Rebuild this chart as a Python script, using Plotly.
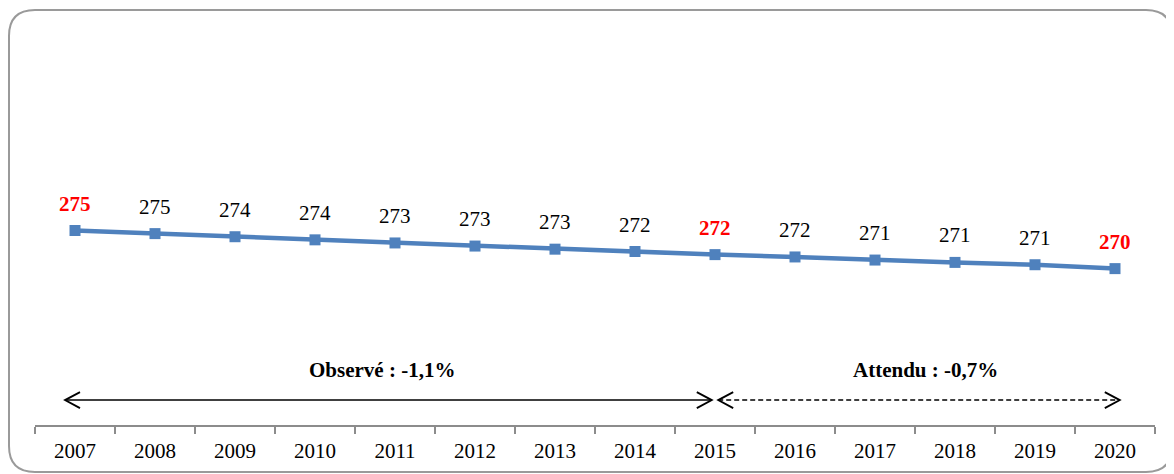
import plotly.graph_objects as go

years = ["2007", "2008", "2009", "2010", "2011", "2012", "2013",
         "2014", "2015", "2016", "2017", "2018", "2019", "2020"]
values = [275.0, 274.6, 274.2, 273.8, 273.4, 273.0, 272.6,
          272.3, 271.9, 271.6, 271.2, 270.9, 270.6, 270.1]
highlight_years = ["2007", "2015", "2020"]
observed_label = "Observé : -1,1%"
expected_label = "Attendu : -0,7%"

FONT = "Liberation Serif, Times New Roman, serif"
BLUE = "#4F81BD"

# page body has an 8px margin: the figure is drawn 8px smaller and offset
OFF = 8
FIG_W, FIG_H = 1174 - OFF, 474 - OFF
ML, MR, MT, MB = 35 - OFF, 19, 36 - OFF, 49

fig = go.Figure()
fig.add_trace(go.Scatter(
    x=years, y=values, mode="lines+markers",
    line=dict(color=BLUE, width=4.5),
    marker=dict(symbol="square", size=11, color=BLUE),
    hoverinfo="skip", showlegend=False,
))

annotations = []
for i, (yr, v) in enumerate(zip(years, values)):
    hi = yr in highlight_years
    txt = f"{int(v + 0.5):d}"
    annotations.append(dict(
        x=i, y=v, xref="x", yref="y", text=f"<b>{txt}</b>" if hi else txt,
        showarrow=False, yshift=27, yanchor="middle",
        font=dict(family=FONT, size=21, color="#FF0000" if hi else "#000000"),
    ))

# arrow texts
annotations.append(dict(x=3.84, y=257.1, xref="x", yref="y", text=f"<b>{observed_label}</b>",
                        showarrow=False, font=dict(family=FONT, size=21, color="#000")))
annotations.append(dict(x=10.63, y=257.1, xref="x", yref="y", text=f"<b>{expected_label}</b>",
                        showarrow=False, font=dict(family=FONT, size=21, color="#000")))

shapes = []
ya = 253.2
shapes.append(dict(type="line", xref="x", yref="y", x0=-0.125, x1=7.96, y0=ya, y1=ya,
                   line=dict(color="#000", width=1.5)))
shapes.append(dict(type="line", xref="x", yref="y", x0=8.04, x1=13.06, y0=ya, y1=ya,
                   line=dict(color="#000", width=1.5, dash="5px,3px")))

def chevron(xa, direction):
    d = 15 * direction
    return dict(type="path", xref="x", yref="y", xsizemode="pixel", ysizemode="pixel",
                xanchor=xa, yanchor=ya,
                path=f"M {d},8 L 0,0 L {d},-8",
                line=dict(color="#000", width=1.8))
shapes.append(chevron(-0.125, 1))
shapes.append(chevron(7.96, -1))
shapes.append(chevron(8.04, 1))
shapes.append(chevron(13.06, -1))

# rounded frame (paper coords), pixel positions in figure space
W = FIG_W - ML - MR
H = FIG_H - MT - MB
def px(xp): return (xp - ML) / W
def py(yp): return (FIG_H - MB - yp) / H
x0, x1, y0, y1 = px(1), px(1164), py(464), py(2)
rx, ry = 26 / W, 26 / H
frame = (f"M {x0+rx},{y1} L {x1-rx},{y1} Q {x1},{y1} {x1},{y1-ry} "
         f"L {x1},{y0+ry} Q {x1},{y0} {x1-rx},{y0} "
         f"L {x0+rx},{y0} Q {x0},{y0} {x0},{y0+ry} "
         f"L {x0},{y1-ry} Q {x0},{y1} {x0+rx},{y1} Z")
shapes.append(dict(type="path", xref="paper", yref="paper", path=frame,
                   line=dict(color="#9a9a9a", width=2), layer="below"))

fig.update_layout(
    width=FIG_W, height=FIG_H,
    margin=dict(l=ML, r=MR, t=MT, b=MB),
    paper_bgcolor="white", plot_bgcolor="white",
    annotations=annotations, shapes=shapes,
    xaxis=dict(type="category", range=[-0.5, 13.5], showline=True,
               linecolor="#8c8c8c", linewidth=2, ticks="outside", ticklen=7,
               tickwidth=2, tickcolor="#8c8c8c", tickson="boundaries",
               showgrid=False, zeroline=False, ticklabelstandoff=6,
               tickfont=dict(family=FONT, size=21, color="#000")),
    yaxis=dict(range=[250, 300], visible=False, showgrid=False),
)

fig.write_html("out.html")
